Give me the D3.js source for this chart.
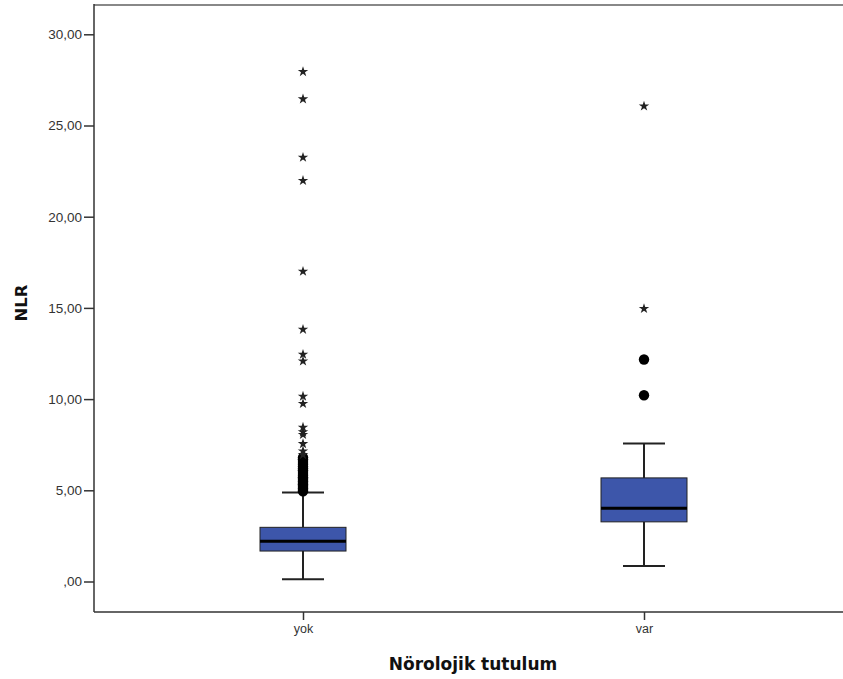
<!DOCTYPE html>
<html>
<head>
<meta charset="utf-8">
<script src="https://cdn.jsdelivr.net/npm/d3@7"></script>
<style>
  html, body { margin: 0; padding: 0; background: #fff; }
  svg { display: block; }
  text { font-family: "Liberation Sans", Arial, sans-serif; }
</style>
</head>
<body>
<svg id="chart" width="843" height="679"></svg>
<script>
// Groups on the x axis
const categories = ["yok", "var"];

// Five-number summaries per group: lower whisker, Q1, median, Q3, upper whisker
const whiskerLow  = [0.12, 0.85];
const quartile1   = [1.67, 3.27];
const medians     = [2.20, 4.01];
const quartile3   = [2.97, 5.68];
const whiskerHigh = [4.88, 7.57];

// Mild outliers (circles) per group
const mildOutliersYok = [4.95, 5.02, 5.10, 5.18, 5.25, 5.33, 5.40, 5.48, 5.56, 5.63, 5.71, 5.80,
                         5.90, 6.00, 6.10, 6.20, 6.30, 6.40, 6.50, 6.60, 6.70, 6.80];
const mildOutliersVar = [10.21, 12.17];

// Extreme outliers (stars) per group
const extremeOutliersYok = [27.95, 26.45, 23.25, 21.98, 17.0, 13.82, 12.45, 12.08, 10.15, 9.75,
                            8.45, 8.20, 8.05, 7.55, 7.15, 6.95];
const extremeOutliersVar = [26.06, 14.96];

// Y axis ticks
const yTicks = [0, 5, 10, 15, 20, 25, 30];
const yTickLabels = [",00", "5,00", "10,00", "15,00", "20,00", "25,00", "30,00"];

const mildOutliers = [mildOutliersYok, mildOutliersVar];
const extremeOutliers = [extremeOutliersYok, extremeOutliersVar];

const svg = d3.select("#chart");
const plot = { left: 94, right: 843, top: 5, bottom: 612 };

const y = d3.scaleLinear().domain([0, 30]).range([581.5, 34.3]);
const x = d3.scalePoint().domain(categories).range([303, 644]);

const boxWidth = 86;
const capWidth = 42;
const ink = "#222";

// Frame: grey top border, dark left and bottom axis lines
svg.append("line")
  .attr("x1", plot.left).attr("x2", plot.right)
  .attr("y1", plot.top).attr("y2", plot.top)
  .attr("stroke", "#888").attr("stroke-width", 2);

// Y axis
const yAxis = d3.axisLeft(y)
  .tickValues(yTicks)
  .tickSize(10)
  .tickPadding(2)
  .tickFormat((d, i) => yTickLabels[i]);

const gy = svg.append("g")
  .attr("transform", `translate(${plot.left},0)`)
  .call(yAxis);
gy.select(".domain").remove();
gy.selectAll(".tick line").attr("stroke", "#333").attr("stroke-width", 1.5);
gy.selectAll(".tick text")
  .attr("fill", "#333")
  .style("font-size", "13.5px")
  .style("font-family", "'Liberation Sans', Arial, sans-serif");

svg.append("line")
  .attr("x1", plot.left).attr("x2", plot.left)
  .attr("y1", plot.top - 1).attr("y2", plot.bottom)
  .attr("stroke", "#333").attr("stroke-width", 1.5);

// X axis
const xAxis = d3.axisBottom(x).tickSize(8).tickPadding(4);
const gx = svg.append("g")
  .attr("transform", `translate(0,${plot.bottom})`)
  .call(xAxis);
gx.select(".domain").remove();
gx.selectAll(".tick line").attr("stroke", "#333").attr("stroke-width", 1.5);
gx.selectAll(".tick text")
  .attr("fill", "#333")
  .style("font-size", "12.5px")
  .style("font-family", "'Liberation Sans', Arial, sans-serif");

svg.append("line")
  .attr("x1", plot.left).attr("x2", plot.right)
  .attr("y1", plot.bottom).attr("y2", plot.bottom)
  .attr("stroke", "#333").attr("stroke-width", 1.5);

// Axis titles
svg.append("text")
  .attr("x", 473).attr("y", 670)
  .attr("text-anchor", "middle")
  .attr("fill", "#111")
  .style("font-family", "'DejaVu Sans', Verdana, sans-serif")
  .style("font-size", "17px").style("font-weight", "bold")
  .text("Nörolojik tutulum");

svg.append("text")
  .attr("transform", "translate(27,303) rotate(-90)")
  .attr("text-anchor", "middle")
  .attr("fill", "#111")
  .style("font-family", "'DejaVu Sans', Verdana, sans-serif")
  .style("font-size", "16.5px").style("font-weight", "bold")
  .text("NLR");

// Box plots
const groups = categories.map((c, i) => ({
  cat: c,
  lo: whiskerLow[i], q1: quartile1[i], med: medians[i], q3: quartile3[i], hi: whiskerHigh[i],
  mild: mildOutliers[i], extreme: extremeOutliers[i]
}));

const g = svg.selectAll("g.box").data(groups).join("g")
  .attr("class", "box")
  .attr("transform", d => `translate(${x(d.cat)},0)`);

// Whisker stems
g.append("line")
  .attr("x1", 0).attr("x2", 0)
  .attr("y1", d => y(d.hi)).attr("y2", d => y(d.q3))
  .attr("stroke", ink).attr("stroke-width", 2);
g.append("line")
  .attr("x1", 0).attr("x2", 0)
  .attr("y1", d => y(d.q1)).attr("y2", d => y(d.lo))
  .attr("stroke", ink).attr("stroke-width", 2);

// Whisker caps
g.append("line")
  .attr("x1", -capWidth / 2).attr("x2", capWidth / 2)
  .attr("y1", d => y(d.hi)).attr("y2", d => y(d.hi))
  .attr("stroke", ink).attr("stroke-width", 2);
g.append("line")
  .attr("x1", -capWidth / 2).attr("x2", capWidth / 2)
  .attr("y1", d => y(d.lo)).attr("y2", d => y(d.lo))
  .attr("stroke", ink).attr("stroke-width", 2);

// Interquartile box
g.append("rect")
  .attr("x", -boxWidth / 2).attr("width", boxWidth)
  .attr("y", d => y(d.q3)).attr("height", d => y(d.q1) - y(d.q3))
  .attr("fill", "#3d56aa").attr("stroke", "#222").attr("stroke-width", 1);

// Median
g.append("line")
  .attr("x1", -boxWidth / 2).attr("x2", boxWidth / 2)
  .attr("y1", d => y(d.med)).attr("y2", d => y(d.med))
  .attr("stroke", "#000").attr("stroke-width", 3);

// Mild outliers as circles
g.selectAll("circle.mild").data(d => d.mild).join("circle")
  .attr("class", "mild")
  .attr("cx", 0).attr("cy", v => y(v)).attr("r", 5.2)
  .attr("fill", "#000");

// Extreme outliers as stars
const star = d3.symbol().type(d3.symbolStar).size(34);
g.selectAll("path.extreme").data(d => d.extreme).join("path")
  .attr("class", "extreme")
  .attr("transform", v => `translate(0,${y(v)})`)
  .attr("d", star)
  .attr("fill", "#222");
</script>
</body>
</html>
